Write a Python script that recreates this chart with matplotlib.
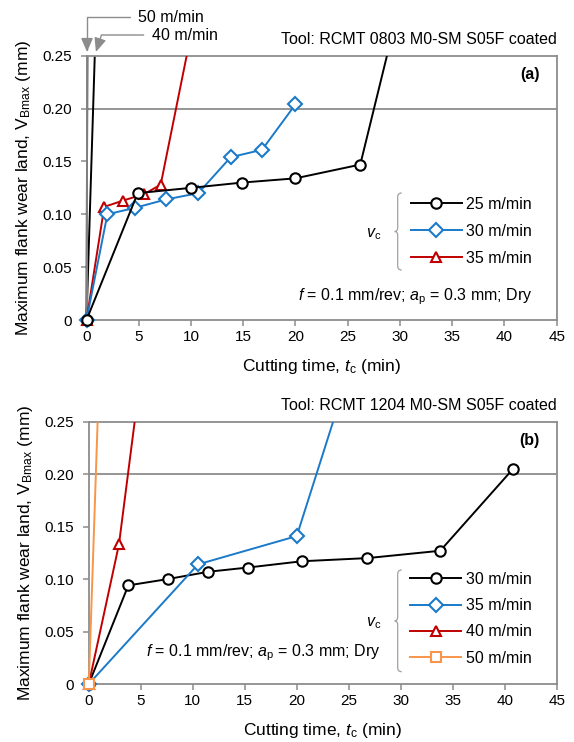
import matplotlib
matplotlib.use("Agg")
import matplotlib.pyplot as plt
from matplotlib.patches import Rectangle, PathPatch
from matplotlib.path import Path
from matplotlib.lines import Line2D

plt.rcParams['font.family'] = ['Liberation Sans', 'DejaVu Sans']
plt.rcParams['mathtext.fontset'] = 'custom'
plt.rcParams['mathtext.rm'] = 'Liberation Sans'
plt.rcParams['mathtext.it'] = 'Liberation Sans:italic'
plt.rcParams['mathtext.bf'] = 'Liberation Sans:bold'

# ---- data, panel (a): RCMT 0803 ----
a_t25 = [0, 4.9, 10.0, 14.9, 20.0, 26.2, 29.5]
a_vb25 = [0, 0.120, 0.125, 0.130, 0.134, 0.147, 0.28]
a_t30 = [0, 2.0, 4.6, 7.6, 10.7, 13.8, 16.8, 20.0]
a_vb30 = [0, 0.100, 0.106, 0.114, 0.120, 0.154, 0.161, 0.204]
a_t35 = [0, 1.7, 3.5, 5.5, 7.1, 10.2]
a_vb35 = [0, 0.107, 0.113, 0.119, 0.128, 0.28]
a_t40 = [0, 0.95]
a_vb40 = [0, 0.30]
a_t50 = [0, 0.1]
a_vb50 = [0, 0.30]

# ---- data, panel (b): RCMT 1204 ----
b_t30 = [0, 3.8, 7.6, 11.5, 15.3, 20.5, 26.8, 33.8, 40.8]
b_vb30 = [0, 0.094, 0.100, 0.107, 0.111, 0.117, 0.120, 0.127, 0.205]
b_t35 = [0, 10.5, 20.0, 25.1]
b_vb35 = [0, 0.114, 0.141, 0.30]
b_t40 = [0, 2.9, 4.8]
b_vb40 = [0, 0.133, 0.28]
b_t50 = [0, 0.95]
b_vb50 = [0, 0.28]

x_ticks = list(range(0, 50, 5))
y_ticks = [0, 0.05, 0.10, 0.15, 0.20, 0.25]
y_ticklabels = ['0', '0.05', '0.10', '0.15', '0.20', '0.25']

BLACK = 'black'
BLUE = '#1a7ac9'
RED = '#c00000'
ORANGE = '#f7964a'
GRAY = '#8c8c8c'
FS = 11.5

W, H = 574, 742
fig = plt.figure(figsize=(W / 100, H / 100), dpi=100)


def px_axes(l, t, r, b):
    return fig.add_axes([l / W, 1 - b / H, (r - l) / W, (b - t) / H])


def style(ax):
    ax.set_xlim(0, 45)
    ax.set_ylim(0, 0.25)
    ax.set_xticks(x_ticks)
    ax.set_yticks(y_ticks)
    ax.set_yticklabels(y_ticklabels)
    for s in ax.spines.values():
        s.set_color(GRAY)
        s.set_linewidth(1.3)
    ax.tick_params(direction='out', color=GRAY, width=1.1, length=4,
                   labelsize=11, labelcolor='black')
    ax.tick_params(axis='y', pad=6.5)
    ax.tick_params(axis='x', pad=3.5)
    ax.axhline(0.20, color=GRAY, lw=1.3, zorder=1)
    ax.set_xlabel('Cutting time, $t_\\mathrm{c}$ (min)', fontsize=12.5, labelpad=9)
    ax.set_ylabel('Maximum flank wear land, V$_\\mathrm{Bmax}$ (mm)', fontsize=12.5, labelpad=7)


def series(ax, clip, t, vb, color, marker=None, z=3):
    ln, = ax.plot(t, vb, color=color, lw=1.4, marker=marker, ms=7.5,
                  mfc='white', mec=color, mew=1.5, zorder=z)
    ln.set_clip_path(clip)
    return ln


def clip_rect(ax):
    r = Rectangle((-0.05, -0.08), 1.1, 1.08, transform=ax.transAxes,
                  facecolor='none', edgecolor='none')
    ax.add_patch(r)
    return r


def brace(x, top, bot):
    # left-facing curly brace in figure pixels
    tr = fig.dpi_scale_trans
    s = 1 / 100.0
    mid = (top + bot) / 2
    pts = [(x + 4, top), (x, top), (x, top + 4),
           (x, mid - 4), (x, mid), (x - 3, mid),
           (x, mid), (x, mid + 4),
           (x, bot - 4), (x, bot), (x + 4, bot)]
    codes = [Path.MOVETO, Path.CURVE3, Path.CURVE3,
             Path.LINETO, Path.CURVE3, Path.CURVE3,
             Path.CURVE3, Path.CURVE3,
             Path.LINETO, Path.CURVE3, Path.CURVE3]
    verts = [(px * s, (H - py) * s) for px, py in pts]
    fig.patches.append(PathPatch(Path(verts, codes), transform=tr,
                                 facecolor='none', edgecolor='#a0a0a0', lw=0.9))


def handle(color, marker):
    return Line2D([], [], color=color, lw=1.4, marker=marker, ms=7.5,
                  mfc='white', mec=color, mew=1.5)


# ---------------- panel (a) ----------------
ax1 = px_axes(86.5, 55.7, 556.7, 320)
style(ax1)
c1 = clip_rect(ax1)
series(ax1, c1, a_t50, a_vb50, BLACK, z=2)
series(ax1, c1, a_t40, a_vb40, BLACK, z=2)
series(ax1, c1, a_t35, a_vb35, RED, '^')
series(ax1, c1, a_t30, a_vb30, BLUE, 'D')
series(ax1, c1, a_t25, a_vb25, BLACK, 'o', z=4)

ax1.text(1.0, 1.06, 'Tool: RCMT 0803 M0-SM S05F coated', transform=ax1.transAxes,
         ha='right', va='center', fontsize=FS)
ax1.text(0.963, 0.93, '(a)', transform=ax1.transAxes, ha='right', va='center',
         fontsize=FS, fontweight='bold')
ax1.text(0.949, 0.088, '$f$ = 0.1 mm/rev; $a_\\mathrm{p}$ = 0.3 mm; Dry',
         transform=ax1.transAxes, ha='right', va='center', fontsize=FS)

ax1.legend([handle(BLACK, 'o'), handle(BLUE, 'D'), handle(RED, '^')],
           ['25 m/min', '30 m/min', '35 m/min'],
           loc='upper left', bbox_to_anchor=((410.5 - 86.5) / 470.2, (320 - 197) / 264.3),
           frameon=False, fontsize=FS, handlelength=3.2, handletextpad=0.3,
           labelspacing=0.75, borderpad=0, borderaxespad=0)
brace(397.7, 193, 270)
fig.text(381 / W, 1 - 234 / H, '$v_\\mathrm{c}$', ha='right', va='center', fontsize=FS)

ann_kw = dict(xycoords='data', textcoords='figure pixels', ha='left', va='center',
              fontsize=FS, annotation_clip=False)
ax1.annotate('50 m/min', xy=(0.05, 0.2535), xytext=(138, H - 17),
             arrowprops=dict(arrowstyle='-|>,head_length=0.7,head_width=0.3', color=GRAY,
                             lw=1.0, connectionstyle='angle,angleA=0,angleB=90,rad=0',
                             shrinkA=4, shrinkB=0, mutation_scale=12), **ann_kw)
ax1.annotate('40 m/min', xy=(0.9, 0.2535), xytext=(152, H - 35),
             arrowprops=dict(arrowstyle='-|>,head_length=0.7,head_width=0.3', color=GRAY,
                             lw=1.0, connectionstyle='angle,angleA=0,angleB=72,rad=0',
                             shrinkA=4, shrinkB=0, mutation_scale=12), **ann_kw)

# ---------------- panel (b) ----------------
ax2 = px_axes(88.8, 421.7, 556.7, 684)
style(ax2)
c2 = clip_rect(ax2)
series(ax2, c2, b_t30, b_vb30, BLACK, 'o')
series(ax2, c2, b_t35, b_vb35, BLUE, 'D')
series(ax2, c2, b_t40, b_vb40, RED, '^')
series(ax2, c2, b_t50, b_vb50, ORANGE, 's')

ax2.text(1.0, 1.063, 'Tool: RCMT 1204 M0-SM S05F coated', transform=ax2.transAxes,
         ha='right', va='center', fontsize=FS)
ax2.text(0.963, 0.928, '(b)', transform=ax2.transAxes, ha='right', va='center',
         fontsize=FS, fontweight='bold')
fig.text(146 / W, 1 - 653 / H, '$f$ = 0.1 mm/rev; $a_\\mathrm{p}$ = 0.3 mm; Dry',
         ha='left', va='center', fontsize=FS)

ax2.legend([handle(BLACK, 'o'), handle(BLUE, 'D'), handle(RED, '^'), handle(ORANGE, 's')],
           ['30 m/min', '35 m/min', '40 m/min', '50 m/min'],
           loc='upper left', bbox_to_anchor=((410 - 88.8) / 467.9, (684 - 572) / 262.3),
           frameon=False, fontsize=FS, handlelength=3.2, handletextpad=0.3,
           labelspacing=0.7, borderpad=0, borderaxespad=0)
brace(397.7, 570, 671.7)
fig.text(381 / W, 1 - 623 / H, '$v_\\mathrm{c}$', ha='right', va='center', fontsize=FS)

fig.savefig('out.png', dpi=100)
